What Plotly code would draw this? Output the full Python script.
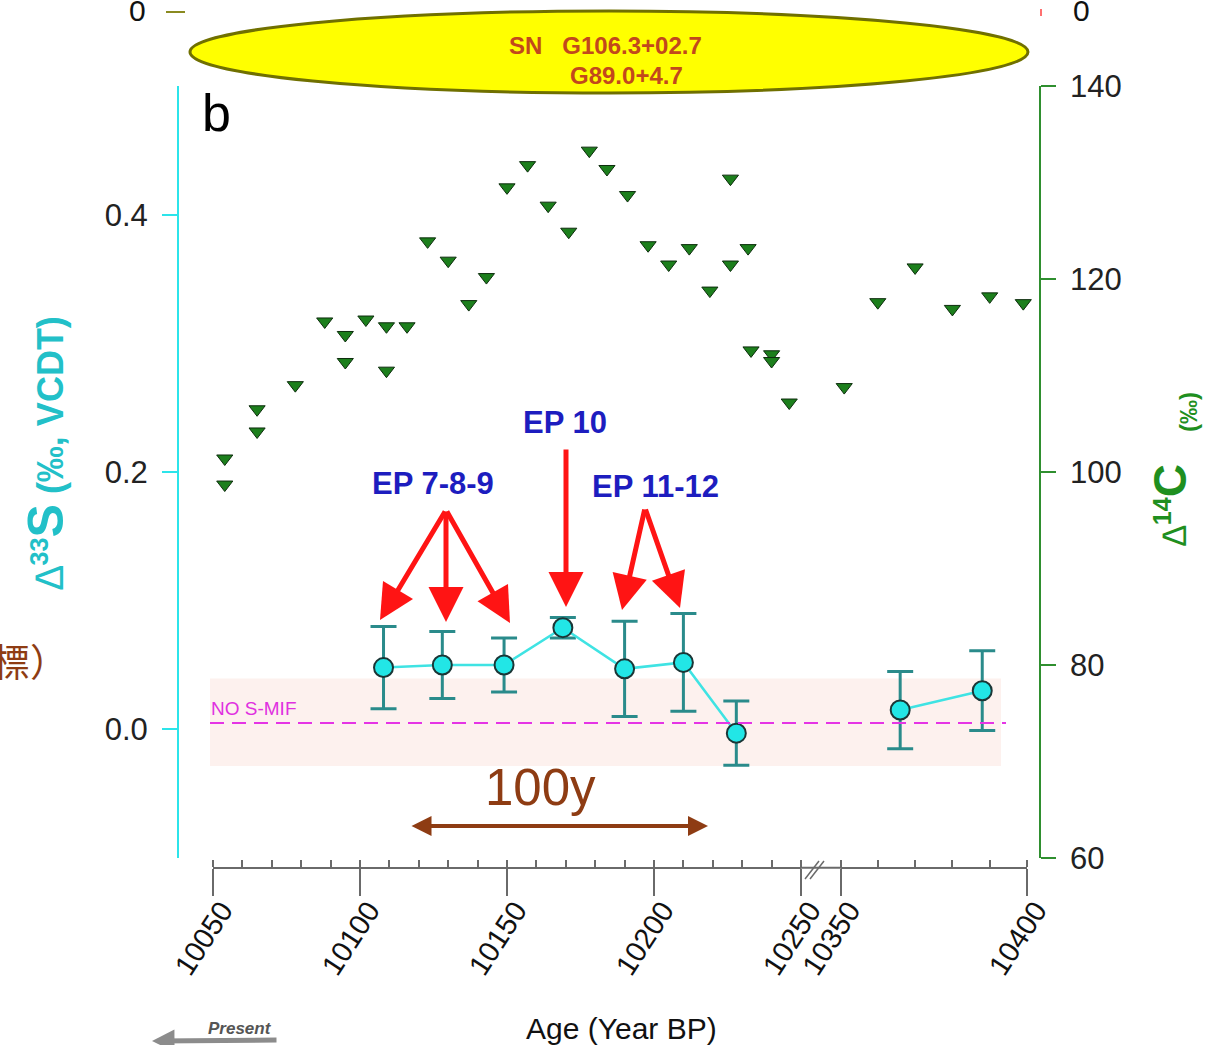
import plotly.graph_objects as go

# ---------------- data ----------------
# Δ33S (‰, VCDT) measurements, left segment (10050-10250 yr BP)
s_age_a = [10108, 10128, 10149, 10169, 10190, 10210, 10228]
s_val_a = [0.048, 0.050, 0.050, 0.079, 0.047, 0.052, -0.003]
s_err_a = [0.032, 0.026, 0.021, 0.008, 0.037, 0.038, 0.025]
# Δ33S, right segment (10350-10400 yr BP)
s_age_b = [10366, 10388]
s_val_b = [0.015, 0.030]
s_err_b = [0.030, 0.031]

# Δ14C (‰) tree-ring record, left segment
c_age_a = [10054, 10054, 10065, 10065, 10078, 10088, 10095, 10095, 10102, 10109,
           10109, 10116, 10123, 10130, 10137, 10143, 10150, 10157, 10164, 10171,
           10178, 10184, 10191, 10198, 10205, 10212, 10219, 10226, 10226, 10232,
           10233, 10240, 10240, 10246]
c_val_a = [101.4, 98.7, 106.5, 104.2, 109.0, 115.6, 114.2, 111.4, 115.8, 115.1,
           110.5, 115.1, 123.9, 121.9, 117.4, 120.2, 129.5, 131.8, 127.6, 124.9,
           133.3, 131.4, 128.7, 123.5, 121.5, 123.2, 118.8, 130.4, 121.5, 123.2,
           112.6, 112.2, 111.5, 107.2]
# Δ14C, right segment
c_age_b = [10351, 10360, 10370, 10380, 10390, 10399]
c_val_b = [108.8, 117.6, 121.2, 116.9, 118.2, 117.5]

# ticks
x_ticks_a = [10050, 10100, 10150, 10200, 10250]
x_ticks_b = [10350, 10400]
s_ticks = [0.0, 0.2, 0.4]
c_ticks = [60, 80, 100, 120, 140]
s_range = [-0.1, 0.5]
c_range = [60, 140]
no_smif_level = 0.005
no_smif_band = [-0.0285, 0.0396]

# ---------------- layout helpers ----------------
W, H = 1213, 1045
def px(x):
    return x / W
def py(y):
    return 1 - y / H

FONT = "Liberation Sans, Arial, sans-serif"
CYAN_AX = "#2ce4ea"
GREEN_AX = "#2f8f2f"
GRAY_AX = "#6a6a6a"
BROWN = "#8e3c13"
RED = "#ff1414"
BLUE = "#1d1dbf"

fig = go.Figure()

marker_circle = dict(size=19, color="#22e6e6", line=dict(color="#1b3636", width=2))
err_style = dict(type="data", color="#2a8b8b", thickness=3, width=13)
tri = dict(symbol="triangle-down", size=14, color="#1c7f1c",
           line=dict(color="#0d2d0d", width=1))

fig.add_trace(go.Scatter(x=s_age_a, y=s_val_a, xaxis="x", yaxis="y",
                         mode="lines+markers", line=dict(color="#3fe3e3", width=2.5),
                         marker=marker_circle, error_y=dict(array=s_err_a, **err_style),
                         cliponaxis=False))
fig.add_trace(go.Scatter(x=s_age_b, y=s_val_b, xaxis="x2", yaxis="y",
                         mode="lines+markers", line=dict(color="#3fe3e3", width=2.5),
                         marker=marker_circle, error_y=dict(array=s_err_b, **err_style),
                         cliponaxis=False))
fig.add_trace(go.Scatter(x=c_age_a, y=c_val_a, xaxis="x", yaxis="y2",
                         mode="markers", marker=tri, cliponaxis=False))
fig.add_trace(go.Scatter(x=c_age_b, y=c_val_b, xaxis="x2", yaxis="y2",
                         mode="markers", marker=tri, cliponaxis=False))

x_common = dict(anchor="free", position=py(867.7), showline=True, linecolor=GRAY_AX,
                linewidth=2, ticks="outside", ticklen=27, tickwidth=2, tickcolor=GRAY_AX,
                tickangle=-57, tickfont=dict(size=29, color="#111", family=FONT),
                ticklabelstandoff=-14, ticklabelshift=9,
                showgrid=False, zeroline=False, fixedrange=True, automargin=False)
fig.update_layout(
    xaxis=dict(domain=[px(213), px(801)], range=[10050, 10250],
               tickvals=x_ticks_a, ticktext=[str(v) for v in x_ticks_a],
               minor=dict(tickmode="linear", tick0=10050, dtick=10, ticks="inside",
                          ticklen=7, tickwidth=2, tickcolor=GRAY_AX),
               **x_common),
    xaxis2=dict(domain=[px(840.5), px(1027)], range=[10350, 10400],
                tickvals=x_ticks_b, ticktext=[str(v) for v in x_ticks_b],
                minor=dict(tickmode="linear", tick0=10350, dtick=10, ticks="inside",
                           ticklen=7, tickwidth=2, tickcolor=GRAY_AX),
                **x_common),
    yaxis=dict(domain=[py(858), py(86)], range=s_range, anchor="free", position=px(178),
               showline=True, linecolor=CYAN_AX, linewidth=2, ticks="outside",
               ticklen=15, tickwidth=2, tickcolor=CYAN_AX, tickvals=s_ticks,
               ticktext=[f"{v:.1f}" for v in s_ticks], ticklabelstandoff=8,
               tickfont=dict(size=31, color="#222", family=FONT),
               showgrid=False, zeroline=False, fixedrange=True, automargin=False),
    yaxis2=dict(overlaying="y", side="right", range=c_range, anchor="free",
                position=px(1040), showline=True, linecolor=GREEN_AX, linewidth=1.5,
                ticks="outside", ticklen=15, tickwidth=1.5, tickcolor=GREEN_AX,
                tickvals=c_ticks, ticktext=[str(v) for v in c_ticks], ticklabelstandoff=8,
                tickfont=dict(size=31, color="#222", family=FONT),
                showgrid=False, zeroline=False, fixedrange=True, automargin=False),
    width=W, height=H, margin=dict(l=0, r=0, t=0, b=0, pad=0, autoexpand=False),
    paper_bgcolor="white", plot_bgcolor="rgba(0,0,0,0)", showlegend=False,
    font=dict(family=FONT),
)

shapes = [
    # NO S-MIF band and line
    dict(type="rect", xref="paper", yref="y", x0=px(210), x1=px(1001),
         y0=no_smif_band[0], y1=no_smif_band[1], fillcolor="#fdf1ee",
         line=dict(width=0), layer="below"),
    dict(type="line", xref="paper", yref="y", x0=px(210), x1=px(1006),
         y0=no_smif_level, y1=no_smif_level,
         line=dict(color="#e535e5", width=2, dash="14px,8px")),
    # axis line across the break
    dict(type="line", xref="paper", yref="paper", x0=px(800), x1=px(841),
         y0=py(867.7), y1=py(867.7), line=dict(color=GRAY_AX, width=2)),
    dict(type="line", xref="paper", yref="paper", x0=px(805), x1=px(819),
         y0=py(879), y1=py(861), line=dict(color=GRAY_AX, width=1.5)),
    dict(type="line", xref="paper", yref="paper", x0=px(810), x1=px(824),
         y0=py(879), y1=py(861), line=dict(color=GRAY_AX, width=1.5)),
    # yellow ellipse
    dict(type="circle", xref="paper", yref="paper", x0=px(190), x1=px(1028),
         y0=py(93), y1=py(11), fillcolor="#ffff00", line=dict(color="#707000", width=3)),
    # remnants of upper panel ticks
    dict(type="line", xref="paper", yref="paper", x0=px(166), x1=px(185),
         y0=py(12), y1=py(12), line=dict(color="#8a8a20", width=2)),
    dict(type="line", xref="paper", yref="paper", x0=px(1041), x1=px(1041),
         y0=py(9), y1=py(16), line=dict(color="#ff4040", width=1.5)),
]
fig.update_layout(shapes=shapes)


def arrow(tip, tail, color, width, size, head=2, side="end"):
    return dict(x=px(tip[0]), y=py(tip[1]), xref="paper", yref="paper",
                ax=tail[0] - tip[0], ay=tail[1] - tip[1], axref="pixel", ayref="pixel",
                text="", showarrow=True, arrowhead=head, arrowsize=size,
                arrowwidth=width, arrowcolor=color, arrowside=side,
                standoff=0, startstandoff=0)


def label(x, y, text, size, color, xanchor="center", yanchor="middle", angle=0,
          family=FONT):
    return dict(x=px(x), y=py(y), xref="paper", yref="paper", text=text,
                showarrow=False, xanchor=xanchor, yanchor=yanchor, textangle=angle,
                font=dict(size=size, color=color, family=family))


ann = [
    # red arrows
    arrow((380, 620), (446, 510), RED, 5, 1.4),
    arrow((446, 622), (446, 510), RED, 5, 1.4),
    arrow((510, 623), (446, 510), RED, 5, 1.4),
    arrow((566, 607), (566, 448), RED, 5, 1.4),
    arrow((622, 610), (645, 508), RED, 5, 1.4),
    arrow((680, 608), (645, 508), RED, 5, 1.4),
    # 100y double arrow
    arrow((708, 826), (410, 826), BROWN, 4, 1.0, head=2, side="end+start"),
    # Present arrow
    arrow((152, 1041), (278, 1040), "#8c8c8c", 5, 0.9, head=2),
    label(433, 483, "<b>EP 7-8-9</b>", 31, BLUE),
    label(565, 422, "<b>EP 10</b>", 31, BLUE),
    label(655, 486, "<b>EP 11-12</b>", 31, BLUE),
    label(540, 787, "100y", 51, BROWN),
    label(209, 708, "NO S-MIF", 19, "#e030e0", xanchor="left"),
    label(216, 113, "b", 52, "#000"),
    label(621, 1028, "Age (Year BP)", 30, "#111"),
    label(240, 1028, "<b><i>Present</i></b>", 17, "#555"),
    label(605, 46, "<b>SN\u00a0\u00a0\u00a0G106.3+02.7</b>", 24, "#c2481c"),
    label(626, 75, "<b>G89.0+4.7</b>", 24, "#c2481c"),
    label(137, 10, "0", 30, "#111"),
    label(1081, 10, "0", 30, "#111"),
    label(70, 659, "座標）", 38, BROWN, xanchor="right",
          family="Noto Sans CJK TC, Noto Sans CJK SC"),
    # axis titles
    label(46, 453, "<span style='font-size:40px'><i>∆</i></span><b><sup>33</sup></b>"
          "<span style='font-size:50px'><b>S</b></span><b> (‰, VCDT)</b>",
          36, "#22c0c8", angle=-90),
    label(1170, 505, "<span style='font-size:34px'><i>∆</i></span><b><sup>14</sup>"
          "<span style='font-size:46px'>C</span></b>", 36, "#1f8f1f", angle=-90),
    label(1188, 412, "<b>(‰)</b>", 24, "#1f8f1f", angle=-90),
]
fig.update_layout(annotations=ann)

fig.write_html("out.html", config={"displayModeBar": False},
               post_script="document.body.style.margin='0';")
